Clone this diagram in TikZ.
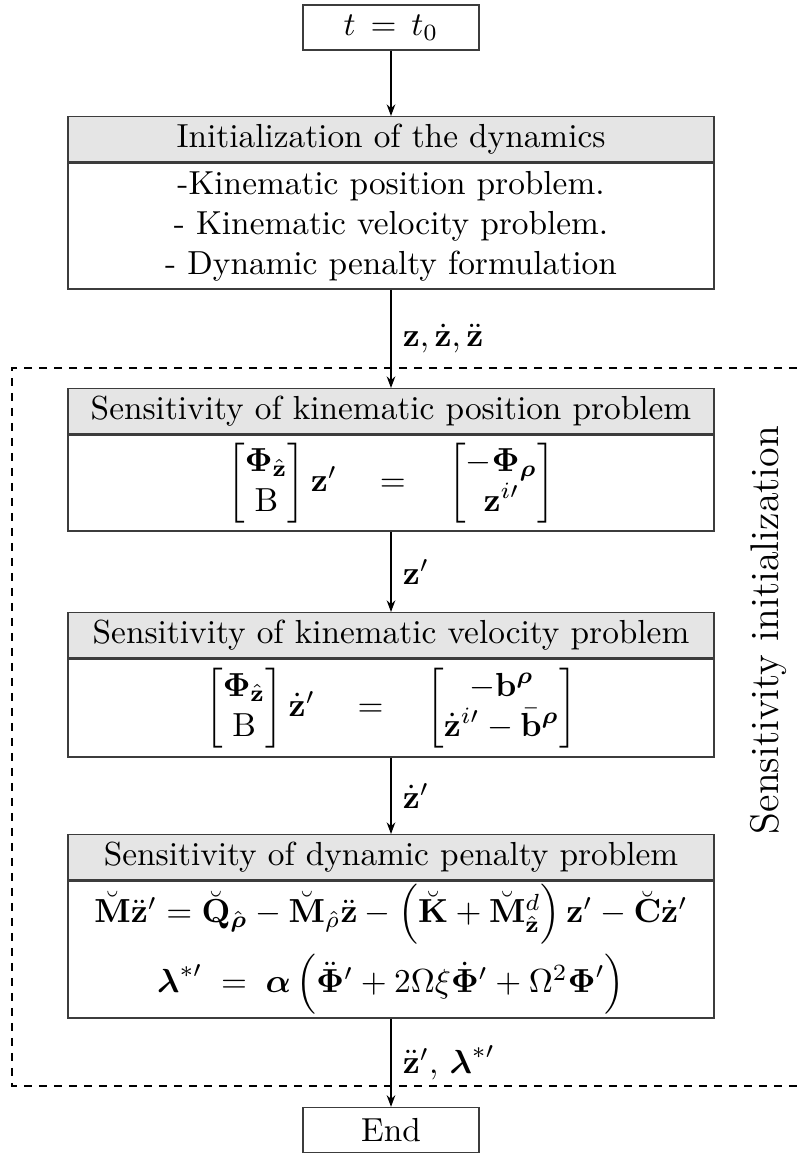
\documentclass[tikz,border=0pt]{standalone}
\usepackage{amsmath, amssymb}
\usepackage{xcolor}
\usepackage{tikz}
\usetikzlibrary{arrows.meta, positioning}
\definecolor{headgray}{RGB}{229, 229, 229}
\definecolor{framegray}{RGB}{60, 60, 60}

\begin{document}
\begin{tikzpicture}[x=0.3pt, y=-0.3pt,
                endbox/.style={draw=framegray, minimum width=52.8pt,
                            minimum height=13.5pt, inner sep=0pt},
                headbox/.style={draw=framegray, fill=headgray, minimum width=193.8pt,
                            minimum height=13.5pt, inner sep=0pt},
                bodybox/.style={draw=framegray, minimum width=193.8pt,
                            inner sep=0pt, align=center},
                arr/.style={-{Stealth[length=3.5pt, width=2.6pt]}, thin}]
                \useasboundingbox (0, 0) rectangle (797, 1156);

                \node[endbox] (start) at (391, 27.5) {$t\,=\,t_0$};

                \node[headbox, anchor=north] (inithead) at (391, 116)
                      {Initialization of the dynamics};
                \node[bodybox, minimum height=37.8pt, below=0pt of inithead] (initbody)
                      {-Kinematic position problem.\\
                       - Kinematic velocity problem.\\
                       - Dynamic penalty formulation};

                \node[headbox, anchor=north] (poshead) at (391, 388)
                      {Sensitivity of kinematic position problem};
                \node[bodybox, minimum height=28.8pt, below=0pt of poshead] (posbody)
                      {$\begin{bmatrix}\boldsymbol{\Phi}_{\hat{\mathbf{z}}}\\ \mathrm{B}\end{bmatrix}\mathbf{z}'
                        \quad=\quad
                        \begin{bmatrix}-\boldsymbol{\Phi}_{\boldsymbol{\rho}}\\ \mathbf{z}^{i\prime}\end{bmatrix}$};

                \node[headbox, anchor=north] (velhead) at (391, 612)
                      {Sensitivity of kinematic velocity problem};
                \node[bodybox, minimum height=29.4pt, below=0pt of velhead] (velbody)
                      {$\begin{bmatrix}\boldsymbol{\Phi}_{\hat{\mathbf{z}}}\\ \mathrm{B}\end{bmatrix}\dot{\mathbf{z}}'
                        \quad=\quad
                        \begin{bmatrix}-\mathbf{b}^{\boldsymbol{\rho}}\\ \dot{\mathbf{z}}^{i\prime}-\bar{\mathbf{b}}^{\boldsymbol{\rho}}\end{bmatrix}$};

                \node[headbox, anchor=north] (dynhead) at (391, 834)
                      {Sensitivity of dynamic penalty problem};
                \node[bodybox, minimum height=41.1pt, below=0pt of dynhead] (dynbody)
                      {$\breve{\mathbf{M}}\ddot{\mathbf{z}}'=\breve{\mathbf{Q}}_{\hat{\boldsymbol{\rho}}}
                        -\breve{\mathbf{M}}_{\hat{\rho}}\ddot{\mathbf{z}}
                        -\left(\breve{\mathbf{K}}+\breve{\mathbf{M}}^{d}_{\hat{\mathbf{z}}}\right)\mathbf{z}'
                        -\breve{\mathbf{C}}\dot{\mathbf{z}}'$\\[2pt]
                       $\boldsymbol{\lambda}^{*\prime}\;=\;\boldsymbol{\alpha}\left(\ddot{\boldsymbol{\Phi}}{}'
                        +2\Omega\xi\dot{\boldsymbol{\Phi}}{}'+\Omega^2\boldsymbol{\Phi}'\right)$};

                \node[endbox] (stop) at (391, 1130) {End};

                % sensitivity block
                \draw[dashed, dash pattern=on 2.5pt off 2pt] (797, 368) -- (12, 368)
                      -- (12, 1086) -- (797, 1086);
                \node[rotate=90, font=\large] (sensinit) at (768, 630)
                      {Sensitivity initialization};

                \draw[arr] (start) -- (inithead);
                \draw[arr] (initbody) -- node[right]
                      {$\mathbf{z},\dot{\mathbf{z}},\ddot{\mathbf{z}}$} (poshead);
                \draw[arr] (posbody) -- node[right] {$\mathbf{z}'$} (velhead);
                \draw[arr] (velbody) -- node[right] {$\dot{\mathbf{z}}'$} (dynhead);
                \draw[arr] (dynbody) -- node[right]
                      {$\ddot{\mathbf{z}}',\,\boldsymbol{\lambda}^{*\prime}$} (stop);
            \end{tikzpicture}
\end{document}
